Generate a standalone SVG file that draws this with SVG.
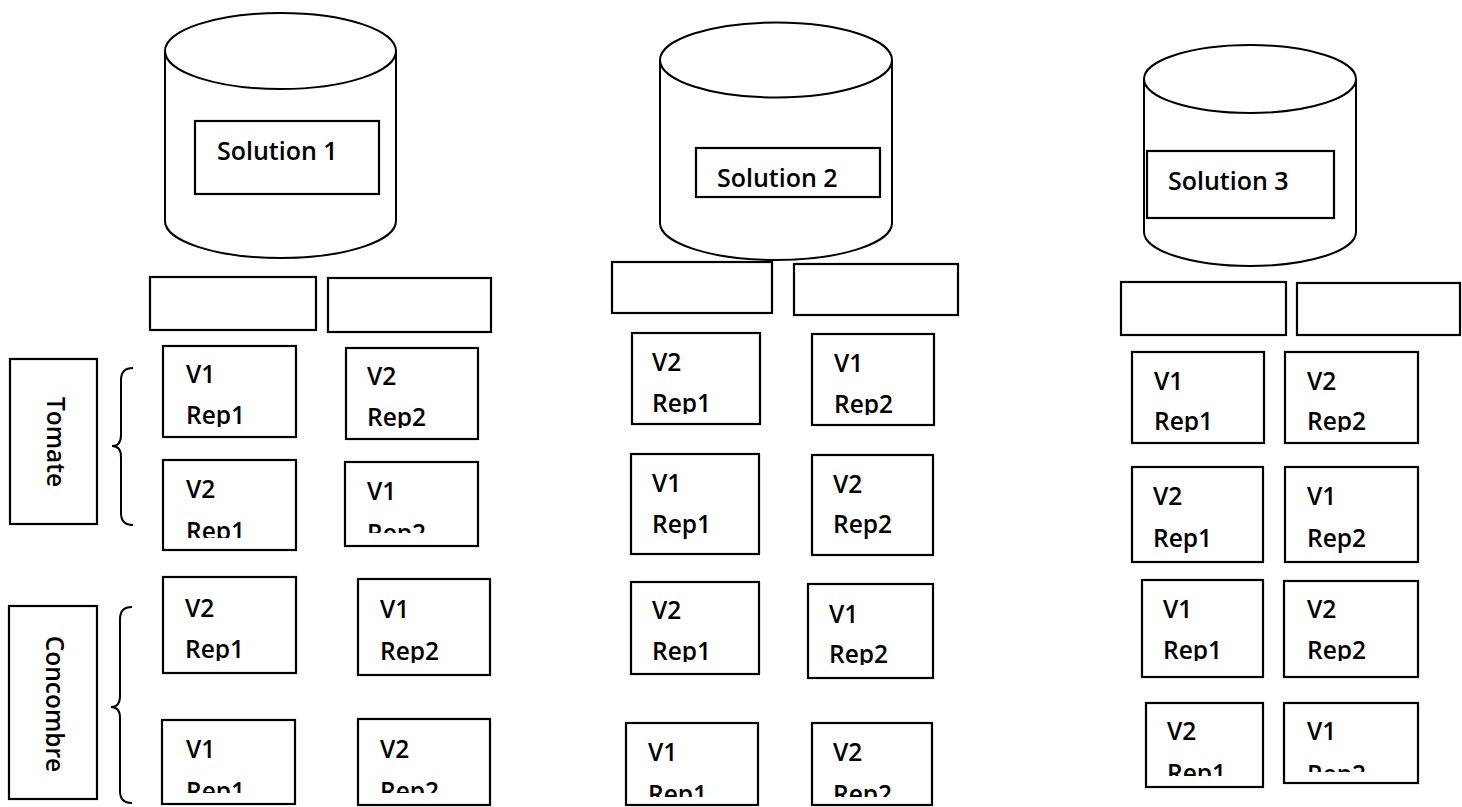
<svg xmlns="http://www.w3.org/2000/svg" width="1462" height="807" viewBox="0 0 1462 807">
<style>
.bg{fill:#fff}
.box{fill:#fff;stroke:#000;stroke-width:2.2}
.cyl{fill:#fff;stroke:#000;stroke-width:2}
.br{fill:none;stroke:#000;stroke-width:2}
.t{font-family:'Open Sans','Liberation Sans',sans-serif;font-size:24.5px;font-weight:600;fill:#000}
.s{font-family:'Open Sans','Liberation Sans',sans-serif;font-size:25px;font-weight:600;fill:#000}
</style>
<defs>
<clipPath id="k1"><rect x="163" y="346" width="133" height="81"/></clipPath>
<clipPath id="k2"><rect x="346" y="348" width="132" height="80"/></clipPath>
<clipPath id="k3"><rect x="163" y="460" width="133" height="78"/></clipPath>
<clipPath id="k4"><rect x="345" y="462" width="133" height="71"/></clipPath>
<clipPath id="k5"><rect x="163" y="577" width="133" height="84"/></clipPath>
<clipPath id="k6"><rect x="358" y="579" width="132" height="84"/></clipPath>
<clipPath id="k7"><rect x="162" y="720" width="133" height="73"/></clipPath>
<clipPath id="k8"><rect x="358" y="719" width="132" height="74"/></clipPath>
<clipPath id="k9"><rect x="632" y="333" width="128" height="81"/></clipPath>
<clipPath id="k10"><rect x="812" y="334" width="122" height="81"/></clipPath>
<clipPath id="k13"><rect x="631" y="582" width="128" height="80"/></clipPath>
<clipPath id="k14"><rect x="808" y="584" width="125" height="81"/></clipPath>
<clipPath id="k15"><rect x="626" y="723" width="132" height="74"/></clipPath>
<clipPath id="k16"><rect x="812" y="723" width="120" height="74"/></clipPath>
<clipPath id="k17"><rect x="1132" y="352" width="132" height="80"/></clipPath>
<clipPath id="k18"><rect x="1285" y="352" width="133" height="80"/></clipPath>
<clipPath id="k21"><rect x="1142" y="580" width="121" height="81"/></clipPath>
<clipPath id="k22"><rect x="1284" y="581" width="134" height="80"/></clipPath>
<clipPath id="k23"><rect x="1146" y="703" width="117" height="73"/></clipPath>
<clipPath id="k24"><rect x="1284" y="703" width="134" height="69"/></clipPath>
</defs>
<rect class="bg" x="0" y="0" width="1462" height="807"/>

<g id="solution1">
<path class="cyl" d="M165,51 L165,221 A115.5,37 0 0 0 396,221 L396,51"/>
<ellipse class="cyl" cx="280.5" cy="51" rx="115.5" ry="38"/>
<rect class="box" x="195" y="121" width="184" height="73"/>
<text class="s" x="217" y="160">Solution 1</text>
</g>
<g id="solution2">
<path class="cyl" d="M660,60 L660,223 A116,37 0 0 0 892,223 L892,60"/>
<ellipse class="cyl" cx="776" cy="60" rx="116" ry="37.5"/>
<rect class="box" x="696" y="148" width="184" height="49"/>
<text class="s" x="717" y="187">Solution 2</text>
</g>
<g id="solution3">
<path class="cyl" d="M1144,79 L1144,232 A106,34 0 0 0 1356,232 L1356,79"/>
<ellipse class="cyl" cx="1250" cy="79" rx="106" ry="34"/>
<rect class="box" x="1147" y="151" width="187" height="67"/>
<text class="s" x="1168" y="190">Solution 3</text>
</g>

<g id="headers">
<rect class="box" x="150" y="277" width="166" height="53"/>
<rect class="box" x="328" y="278" width="163" height="54"/>
<rect class="box" x="612" y="262" width="160" height="51"/>
<rect class="box" x="794" y="264" width="164" height="51"/>
<rect class="box" x="1121" y="282" width="165" height="53"/>
<rect class="box" x="1297" y="283" width="163" height="52"/>
</g>

<g id="tomate">
<rect class="box" x="10" y="359" width="87" height="165"/>
<text class="t" transform="translate(47,442) rotate(90)" text-anchor="middle">Tomate</text>
</g>
<g id="concombre">
<rect class="box" x="9" y="606" width="88" height="193"/>
<text class="t" transform="translate(46,704) rotate(90)" text-anchor="middle">Concombre</text>
</g>

<g id="braces">
<path class="br" d="M133,368 C125,368 121,372 121,380 L121,435 C121,442 118,446 112,446 C118,446 121,450 121,457 L121,513 C121,521 125,525 133,525"/>
<path class="br" d="M132,607 C124,607 120,611 120,619 L120,696 C120,703 117,707 111,707 C117,707 120,711 120,718 L120,791 C120,799 124,803 132,803"/>
</g>

<g id="b1"><rect class="box" x="163" y="346" width="133" height="91"/><g clip-path="url(#k1)"><text class="t" x="186" y="383">V1</text><text class="t" x="186" y="424">Rep1</text></g></g>
<g id="b2"><rect class="box" x="346" y="348" width="132" height="91"/><g clip-path="url(#k2)"><text class="t" x="367" y="385">V2</text><text class="t" x="367" y="426">Rep2</text></g></g>
<g id="b3"><rect class="box" x="163" y="460" width="133" height="90"/><g clip-path="url(#k3)"><text class="t" x="186" y="498">V2</text><text class="t" x="186" y="540">Rep1</text></g></g>
<g id="b4"><rect class="box" x="345" y="462" width="133" height="84"/><g clip-path="url(#k4)"><text class="t" x="367" y="500">V1</text><text class="t" x="367" y="542">Rep2</text></g></g>
<g id="b5"><rect class="box" x="163" y="577" width="133" height="96"/><g clip-path="url(#k5)"><text class="t" x="185" y="617">V2</text><text class="t" x="185" y="658">Rep1</text></g></g>
<g id="b6"><rect class="box" x="358" y="579" width="132" height="96"/><g clip-path="url(#k6)"><text class="t" x="380" y="618">V1</text><text class="t" x="380" y="660">Rep2</text></g></g>
<g id="b7"><rect class="box" x="162" y="720" width="133" height="84"/><g clip-path="url(#k7)"><text class="t" x="186" y="758">V1</text><text class="t" x="186" y="800">Rep1</text></g></g>
<g id="b8"><rect class="box" x="358" y="719" width="132" height="86"/><g clip-path="url(#k8)"><text class="t" x="380" y="758">V2</text><text class="t" x="380" y="800">Rep2</text></g></g>

<g id="b9"><rect class="box" x="632" y="333" width="128" height="91"/><g clip-path="url(#k9)"><text class="t" x="652" y="371">V2</text><text class="t" x="652" y="412">Rep1</text></g></g>
<g id="b10"><rect class="box" x="812" y="334" width="122" height="91"/><g clip-path="url(#k10)"><text class="t" x="834" y="372">V1</text><text class="t" x="834" y="413">Rep2</text></g></g>
<g id="b11"><rect class="box" x="631" y="454" width="128" height="100"/><text class="t" x="652" y="492">V1</text><text class="t" x="652" y="533">Rep1</text></g>
<g id="b12"><rect class="box" x="812" y="455" width="121" height="100"/><text class="t" x="833" y="493">V2</text><text class="t" x="833" y="533">Rep2</text></g>
<g id="b13"><rect class="box" x="631" y="582" width="128" height="92"/><g clip-path="url(#k13)"><text class="t" x="652" y="619">V2</text><text class="t" x="652" y="660">Rep1</text></g></g>
<g id="b14"><rect class="box" x="808" y="584" width="125" height="94"/><g clip-path="url(#k14)"><text class="t" x="829" y="623">V1</text><text class="t" x="829" y="663">Rep2</text></g></g>
<g id="b15"><rect class="box" x="626" y="723" width="132" height="82"/><g clip-path="url(#k15)"><text class="t" x="648" y="761">V1</text><text class="t" x="648" y="803">Rep1</text></g></g>
<g id="b16"><rect class="box" x="812" y="723" width="120" height="82"/><g clip-path="url(#k16)"><text class="t" x="833" y="761">V2</text><text class="t" x="833" y="803">Rep2</text></g></g>

<g id="b17"><rect class="box" x="1132" y="352" width="132" height="91"/><g clip-path="url(#k17)"><text class="t" x="1154" y="390">V1</text><text class="t" x="1154" y="430">Rep1</text></g></g>
<g id="b18"><rect class="box" x="1285" y="352" width="133" height="91"/><g clip-path="url(#k18)"><text class="t" x="1307" y="390">V2</text><text class="t" x="1307" y="430">Rep2</text></g></g>
<g id="b19"><rect class="box" x="1132" y="467" width="131" height="95"/><text class="t" x="1153" y="505">V2</text><text class="t" x="1153" y="547">Rep1</text></g>
<g id="b20"><rect class="box" x="1285" y="467" width="133" height="95"/><text class="t" x="1307" y="505">V1</text><text class="t" x="1307" y="547">Rep2</text></g>
<g id="b21"><rect class="box" x="1142" y="580" width="121" height="97"/><g clip-path="url(#k21)"><text class="t" x="1163" y="618">V1</text><text class="t" x="1163" y="659">Rep1</text></g></g>
<g id="b22"><rect class="box" x="1284" y="581" width="134" height="96"/><g clip-path="url(#k22)"><text class="t" x="1307" y="618">V2</text><text class="t" x="1307" y="659">Rep2</text></g></g>
<g id="b23"><rect class="box" x="1146" y="703" width="117" height="84"/><g clip-path="url(#k23)"><text class="t" x="1167" y="740">V2</text><text class="t" x="1167" y="782">Rep1</text></g></g>
<g id="b24"><rect class="box" x="1284" y="703" width="134" height="80"/><g clip-path="url(#k24)"><text class="t" x="1307" y="740">V1</text><text class="t" x="1307" y="783">Rep2</text></g></g>
</svg>
